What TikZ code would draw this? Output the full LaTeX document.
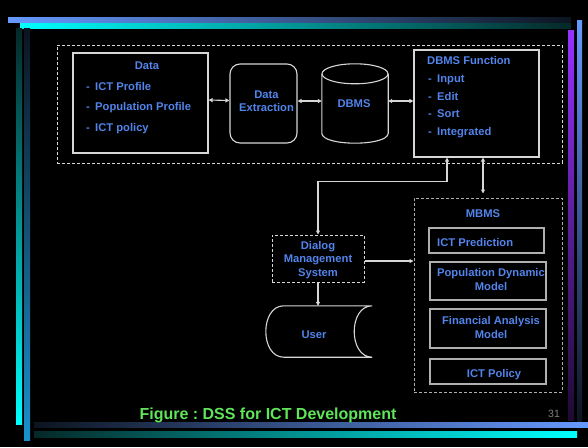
\documentclass[tikz,border=0pt]{standalone}
\usepackage{fontspec}
\setmainfont{Liberation Sans}
\usetikzlibrary{arrows.meta,calc}
\frenchspacing
\definecolor{txtblue}{RGB}{82,132,235}
\definecolor{capgreen}{RGB}{95,228,90}
\definecolor{lgray}{RGB}{215,215,215}
\definecolor{mgray}{RGB}{175,175,175}
\definecolor{barblue}{RGB}{102,153,255}
\definecolor{barcyan}{RGB}{0,255,255}
\definecolor{barpurple}{RGB}{150,50,255}
\definecolor{barmid}{RGB}{25,145,205}
\definecolor{darkend}{RGB}{12,20,32}
\definecolor{darkteal}{RGB}{5,40,40}
\begin{document}
\begin{tikzpicture}[x=1pt,y=-1pt,
  box/.style={draw=lgray, line width=1.1pt, inner sep=0pt},
  mbox/.style={draw=mgray, line width=1.3pt, inner sep=0pt},
  dbox/.style={draw=lgray, line width=1pt, dash pattern=on 3pt off 2pt, inner sep=0pt},
  lbl/.style={text=txtblue, inner sep=0pt, font=\fontsize{11.2}{13.4}\selectfont\bfseries},
  conn/.style={draw=lgray, line width=1.1pt},
  tip/.style={-{Triangle[length=4pt,width=4pt]}},
  dtip/.style={{Triangle[length=4pt,width=4pt]}-{Triangle[length=4pt,width=4pt]}}]
\fill[black] (0,0) rectangle (588,447);
\useasboundingbox (0,0) rectangle (588,447);

% frame bars
\shade[left color=barblue, right color=darkend] (8,17) rectangle (571,22);
\shade[left color=barcyan, right color=darkteal] (20,23) rectangle (571,28);
\shade[top color=darkteal, bottom color=barcyan] (16,28) rectangle (22,424);
\shade[top color=darkend, bottom color=barmid] (24,28) rectangle (30,440);
\shade[top color=barpurple, bottom color=black!80!barpurple] (568,30) rectangle (574,420);
\shade[top color=barblue, bottom color=darkend] (577,20) rectangle (582,422);
\shade[left color=darkend, right color=barblue] (34,422) rectangle (588,427);
\shade[left color=darkteal, right color=barcyan] (34,431) rectangle (577,437);

% database group
\node[dbox, minimum width=505, minimum height=118] (dbgrp) at (309.5,104) {};
\node[box, minimum width=135, minimum height=100] (data) at (140.5,103) {};
\node[box, rounded corners=10pt, minimum width=67, minimum height=79] (dx) at (263.5,103.5) {};
\node[minimum width=66, minimum height=79, inner sep=0pt] (dbms) at (355,103.5) {};
\node[box, minimum width=125, minimum height=107] (dbmsf) at (476.5,103.5) {};

% cylinder outline
\draw[box] ($(dbms.north)+(0,10)$) ellipse [x radius=33pt, y radius=10pt];
\draw[box] ($(dbms.north west)+(0,10)$) -- ($(dbms.south west)+(0,-10)$)
  .. controls ($(dbms.south west)+(0,3.3)$) and ($(dbms.south east)+(0,3.3)$) .. ($(dbms.south east)+(0,-10)$)
  -- ($(dbms.north east)+(0,10)$);

% texts of the database group
\node[lbl, anchor=base] (datat) at (147,69) {Data};
\node[lbl, anchor=base west] (dd1) at (86,90) {-};
\node[lbl, anchor=base west] (d1) at (95,90) {ICT Profile};
\node[lbl, anchor=base west] (dd2) at (86,110.5) {-};
\node[lbl, anchor=base west] (d2) at (95,110.5) {Population Profile};
\node[lbl, anchor=base west] (dd3) at (86,131) {-};
\node[lbl, anchor=base west] (d3) at (95,131) {ICT policy};
\node[lbl, anchor=base] (dxt1) at (266.5,98) {Data};
\node[lbl, anchor=base] (dxt2) at (266.5,111) {Extraction};
\node[lbl, anchor=base] (dbmst) at (354,107) {DBMS};
\node[lbl, anchor=base west] (ft) at (427,64) {DBMS Function};
\node[lbl, anchor=base west] (fd1) at (428,82) {-};
\node[lbl, anchor=base west] (f1) at (437,82) {Input};
\node[lbl, anchor=base west] (fd2) at (428,100) {-};
\node[lbl, anchor=base west] (f2) at (437,100) {Edit};
\node[lbl, anchor=base west] (fd3) at (428,117.5) {-};
\node[lbl, anchor=base west] (f3) at (437,117.5) {Sort};
\node[lbl, anchor=base west] (fd4) at (428,135) {-};
\node[lbl, anchor=base west] (f4) at (437,135) {Integrated};

% dialog, user and model base
\node[dbox, minimum width=92, minimum height=47] (dlg) at (318,258.5) {};
\node[lbl, anchor=base] (dlg1) at (318,249) {Dialog};
\node[lbl, anchor=base] (dlg2) at (318,262.5) {Management};
\node[lbl, anchor=base] (dlg3) at (318,276) {System};

\node[minimum width=106, minimum height=51, inner sep=0pt] (user) at (319,331.5) {};
\draw[box] ($(user.north west)+(18,0)$) -- (user.north east)
  .. controls ($(user.north east)+(-24,0)$) and ($(user.south east)+(-24,0)$) .. (user.south east)
  -- ($(user.south west)+(18,0)$)
  .. controls ($(user.south west)+(-6,0)$) and ($(user.north west)+(-6,0)$) .. cycle;
\node[lbl, anchor=base] (usert) at (314,338) {User};

\node[dbox, draw=mgray, minimum width=148, minimum height=194] (mbms) at (488,295) {};
\node[lbl, anchor=base] (mbmst) at (483,217) {MBMS};
\node[mbox, minimum width=115, minimum height=25] (m1) at (486.5,240.5) {};
\node[lbl, anchor=base west] (m1t) at (437,246) {ICT Prediction};
\node[mbox, minimum width=116, minimum height=38] (m2) at (488,281) {};
\node[lbl, anchor=base] (m2a) at (491,276) {Population Dynamic};
\node[lbl, anchor=base] (m2b) at (491,290) {Model};
\node[mbox, minimum width=116, minimum height=39] (m3) at (488,328.5) {};
\node[lbl, anchor=base] (m3a) at (491,324) {Financial Analysis};
\node[lbl, anchor=base] (m3b) at (491,338) {Model};
\node[mbox, minimum width=116, minimum height=25] (m4) at (488,371.5) {};
\node[lbl, anchor=base] (m4t) at (494,377) {ICT Policy};

% connectors
\draw[conn, dtip] ($(data.east)+(0,-3)$) -- ($(dx.west)+(0,-3)$);
\draw[conn, dtip] ($(dx.east)+(0,-2.5)$) -- ($(dbms.west)+(0,-2.5)$);
\draw[conn, dtip] ($(dbms.east)+(0,-2.5)$) -- ($(dbmsf.west)+(0,-2.5)$);
\coordinate (fa) at ($(dbmsf.south)+(-29.5,0)$);
\coordinate (fb) at ($(dbmsf.south)+(6.5,0)$);
\draw[conn, dtip] (fa) -- ++(0,24) -| (dlg.north);
\draw[conn, dtip] (fb) -- ($(fb |- mbms.north)+(0,-4)$);
\draw[conn, tip] ($(dlg.east)+(0,2.5)$) -- ($(dlg.east -| mbms.west)+(0,2.5)$);
\draw[conn, tip] (dlg.south) -- (dlg.south |- user.north);

% caption and page number
\node[text=capgreen, inner sep=0pt, anchor=base, font=\fontsize{16}{18}\selectfont\bfseries] (cap) at (268,419) {Figure : DSS for ICT Development};
\node[text=gray, inner sep=0pt, anchor=base, font=\fontsize{10.5}{12}\selectfont] (pg) at (554,417) {31};
\end{tikzpicture}
\end{document}
